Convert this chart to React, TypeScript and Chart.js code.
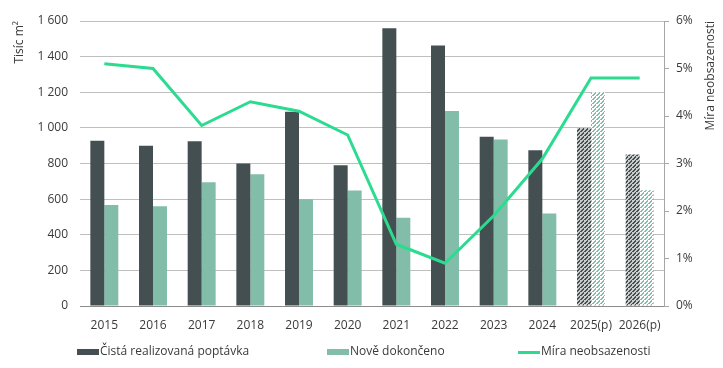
import React, { useEffect, useRef } from "react";
import { Chart, registerables } from "chart.js";

Chart.register(...registerables);

const categories = ["2015", "2016", "2017", "2018", "2019", "2020", "2021", "2022", "2023", "2024", "2025(p)", "2026(p)"];
const demand = [928, 900, 925, 800, 1090, 790, 1560, 1462, 950, 875, 1000, 850];
const completed = [567, 560, 695, 740, 600, 648, 495, 1095, 935, 520, 1200, 650];
const vacancy = [5.1, 5.0, 3.8, 4.3, 4.1, 3.6, 1.3, 0.9, 1.9, 3.1, 4.8, 4.8];
const leftTicks = [0, 200, 400, 600, 800, 1000, 1200, 1400, 1600];
const rightTicks = [0, 1, 2, 3, 4, 5, 6];
const projectedCount = 2;

const DARK = "#444f51";
const LIGHT = "#82bdaa";
const GREEN = "#2bdc90";
const TEXT = "#3a3a3a";
const FONT = "'Open Sans', sans-serif";

function makePattern(bg: string, fg: string): CanvasPattern | string {
  const c = document.createElement("canvas");
  c.width = 4;
  c.height = 4;
  const g = c.getContext("2d");
  if (!g) return fg;
  g.fillStyle = bg;
  g.fillRect(0, 0, 4, 4);
  g.fillStyle = fg;
  for (let i = 0; i < 4; i++) {
    g.fillRect(i, 3 - i, 2, 1);
  }
  const p = g.createPattern(c, "repeat");
  return p || fg;
}

function fmtThousands(v: number): string {
  return String(v).replace(/\B(?=(\d{3})+(?!\d))/g, " ");
}

export default function App() {
  const ref = useRef<HTMLCanvasElement>(null);
  useEffect(() => {
    if (!ref.current) return;
    const darkPat = makePattern("#c8cbcb", DARK);
    const lightPat = makePattern("#ffffff", LIGHT);
    const n = categories.length;
    const darkColors = categories.map((_, i) => (i >= n - projectedCount ? darkPat : DARK));
    const lightColors = categories.map((_, i) => (i >= n - projectedCount ? lightPat : LIGHT));

    const titlesLegend = {
      id: "titlesLegend",
      afterDraw(chart: any) {
        const ctx = chart.ctx;
        const ca = chart.chartArea;
        ctx.save();
        ctx.fillStyle = TEXT;
        ctx.font = `12px ${FONT}`;
        ctx.save();
        ctx.translate(12, ca.top);
        ctx.rotate(-Math.PI / 2);
        ctx.textAlign = "right";
        ctx.textBaseline = "middle";
        ctx.fillText("Tisíc m²", 0, 0);
        ctx.restore();
        ctx.save();
        ctx.translate(chart.width - 4, ca.top);
        ctx.rotate(-Math.PI / 2);
        ctx.textAlign = "right";
        ctx.textBaseline = "middle";
        ctx.fillText("Míra neobsazenosti", 0, 0);
        ctx.restore();
        const y = chart.height - 8;
        const items = [
          { label: "Čistá realizovaná poptávka", kind: "box", color: DARK, x: 69 },
          { label: "Nově dokončeno", kind: "box", color: LIGHT, x: 319 },
          { label: "Míra neobsazenosti", kind: "line", color: GREEN, x: 510 },
        ];
        ctx.font = `12px ${FONT}`;
        ctx.textAlign = "left";
        ctx.textBaseline = "middle";
        for (const it of items) {
          const x = it.x;
          ctx.fillStyle = it.color;
          if (it.kind === "box") ctx.fillRect(x, y - 3, 22, 6);
          else ctx.fillRect(x, y - 1, 22, 3);
          ctx.fillStyle = TEXT;
          ctx.fillText(it.label, x + 23, y);
        }
        ctx.restore();
      },
    };

    const chart = new Chart(ref.current, {
      type: "bar",
      data: {
        labels: categories,
        datasets: [
          {
            type: "line",
            label: "Míra neobsazenosti",
            data: vacancy,
            yAxisID: "y2",
            borderColor: GREEN,
            backgroundColor: GREEN,
            borderWidth: 3,
            pointRadius: 0,
            tension: 0,
            order: 0,
          } as any,
          {
            label: "Čistá realizovaná poptávka",
            data: demand,
            yAxisID: "y",
            backgroundColor: darkColors as any,
            barPercentage: 1,
            categoryPercentage: 0.575,
            order: 1,
          },
          {
            label: "Nově dokončeno",
            data: completed,
            yAxisID: "y",
            backgroundColor: lightColors as any,
            barPercentage: 1,
            categoryPercentage: 0.575,
            order: 1,
          },
        ],
      },
      options: {
        responsive: false,
        animation: false,
        layout: { padding: { top: 13, bottom: 0, left: 0, right: 0 } },
        plugins: {
          legend: { display: false },
          tooltip: { enabled: false },
        },
        scales: {
          x: {
            grid: { display: false },
            border: { display: true, color: "#8c8c8c", width: 1 },
            ticks: { color: TEXT, font: { family: FONT, size: 12 }, padding: 4, maxRotation: 0, autoSkip: false },
            afterFit(s: any) {
              s.height = 54;
              s.paddingLeft = 0;
              s.paddingRight = 0;
            },
          },
          y: {
            position: "left",
            min: 0,
            max: 1600,
            afterBuildTicks(s: any) {
              s.ticks = leftTicks.map((v) => ({ value: v }));
            },
            grid: { color: "#bfbfbf", drawTicks: false, lineWidth: 1 },
            border: { display: false },
            ticks: {
              color: TEXT,
              font: { family: FONT, size: 12 },
              padding: 12,
              callback: (v: any) => fmtThousands(Number(v)),
            },
            afterFit(s: any) {
              s.width = 72;
              s.paddingTop = 0;
              s.paddingBottom = 0;
            },
          },
          y2: {
            position: "right",
            min: 0,
            max: 6,
            afterBuildTicks(s: any) {
              s.ticks = rightTicks.map((v) => ({ value: v }));
            },
            grid: { drawOnChartArea: false, drawTicks: true, tickLength: 5, color: "#a6a6a6" },
            border: { display: true, color: "#a6a6a6" },
            ticks: {
              color: TEXT,
              font: { family: FONT, size: 12 },
              padding: 7,
              callback: (v: any) => `${v}%`,
            },
            afterFit(s: any) {
              s.width = 51;
              s.paddingTop = 0;
              s.paddingBottom = 0;
            },
          },
        },
      },
      plugins: [titlesLegend],
    });
    return () => chart.destroy();
  }, []);
  return <canvas ref={ref} width={707} height={352} style={{ display: "block" }} />;
}
